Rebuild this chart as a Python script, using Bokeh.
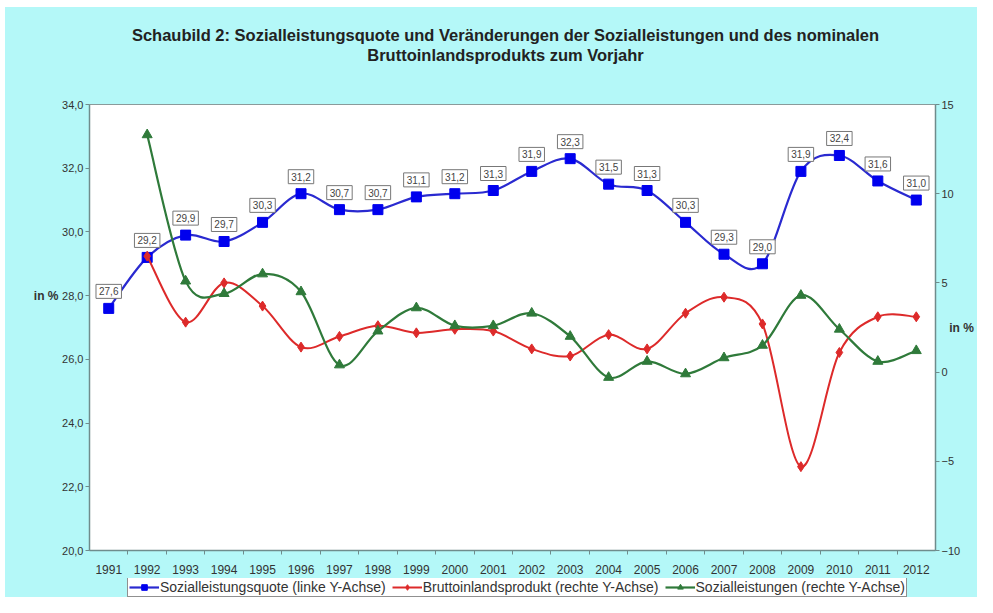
from bokeh.plotting import figure
from bokeh.layouts import column, row
from bokeh.models import (Range1d, LinearAxis, FixedTicker, CustomJSTickFormatter,
                          ColumnDataSource, Legend, LegendItem)
from bokeh.core.properties import value
from bokeh.embed import file_html
from bokeh.resources import INLINE

years = list(range(1991, 2013))
quote = [27.6, 29.2, 29.9, 29.7, 30.3, 31.2, 30.7, 30.7, 31.1, 31.2, 31.3,
         31.9, 32.3, 31.5, 31.3, 30.3, 29.3, 29.0, 31.9, 32.4, 31.6, 31.0]
bip_years = list(range(1992, 2013))
bip = [6.5, 2.8, 5.0, 3.7, 1.4, 2.0, 2.6, 2.2, 2.4, 2.3, 1.3, 0.9, 2.1, 1.3,
       3.3, 4.2, 2.7, -5.3, 1.1, 3.1, 3.1]
sl_years = list(range(1992, 2013))
sl = [13.3, 5.1, 4.4, 5.5, 4.5, 0.4, 2.3, 3.6, 2.6, 2.6, 3.3, 2.0, -0.3, 0.6,
      -0.1, 0.8, 1.5, 4.3, 2.4, 0.6, 1.2]

left_ticks = [20, 22, 24, 26, 28, 30, 32, 34]
right_ticks = [-10, -5, 0, 5, 10, 15]

title1 = "Schaubild 2: Sozialleistungsquote und Veränderungen der Sozialleistungen und des nominalen"
title2 = "Bruttoinlandsprodukts zum Vorjahr"
unit_label = "in %"
leg_labels = ["Sozialleistungsquote (linke Y-Achse)",
              "Bruttoinlandsprodukt (rechte Y-Achse)",
              "Sozialleistungen (rechte Y-Achse)"]

BG = "#B4F8F8"
AX = "#6f8c8c"
TXT = "#333333"
FONT = "Liberation Sans"
BLUE_L, BLUE_M = "#2a2ad0", "#0000ee"
RED = "#dd2a2a"
GREEN = "#2f7a3a"

W, H = 977, 597
TOP_W, LEFT_W = 7, 5
TITLE_H, MAIN_H = 87, 484
LEG_H = H - TOP_W - TITLE_H - MAIN_H
SIDE_W = 54
BT, BB = 10, 28
BL, BR = 28, 42


def blank(w, h, xr, yr, bg=BG, **kw):
    f = figure(width=w, height=h, output_backend="svg", toolbar_location=None,
               x_range=xr, y_range=yr, x_axis_type=None, y_axis_type=None,
               min_border=0, **kw)
    f.border_fill_color = bg
    f.background_fill_color = bg
    f.outline_line_color = None
    f.grid.visible = False
    return f


# ---- white page strips
top_strip = blank(W, TOP_W, Range1d(0, 1), Range1d(0, 1), bg="white")
left_strip = blank(LEFT_W, TITLE_H + MAIN_H + LEG_H, Range1d(0, 1), Range1d(0, 1), bg="white")

# ---- title strip
tf = blank(W - LEFT_W, TITLE_H, Range1d(LEFT_W, W), Range1d(0, TITLE_H))
tf.text(x=[505, 505], y=[60, 40], text=[title1, title2], text_font=value(FONT),
        text_font_size="16.5px", text_font_style="bold", text_color="#222222",
        text_align="center", text_baseline="middle")

# ---- main chart
yr = Range1d(left_ticks[0], left_ticks[-1])
p = figure(width=W - LEFT_W - SIDE_W, height=MAIN_H, output_backend="svg",
           toolbar_location=None,
           x_range=Range1d(years[0] - 0.5, years[-1] + 0.5), y_range=yr,
           min_border_left=BL, min_border_right=BR, min_border_top=BT,
           min_border_bottom=BB)
p.title = None
p.extra_y_ranges = {"r": Range1d(right_ticks[0], right_ticks[-1])}
p.border_fill_color = BG
p.background_fill_color = "white"
p.outline_line_color = "#8a9a9a"
p.grid.visible = False

p.xaxis.ticker = FixedTicker(ticks=years, minor_ticks=[y + 0.5 for y in years[:-1]])
p.yaxis.ticker = FixedTicker(ticks=left_ticks, minor_ticks=[])
p.yaxis.formatter = CustomJSTickFormatter(code="return tick.toFixed(1).replace('.', ',');")
ra = LinearAxis(y_range_name="r", ticker=FixedTicker(ticks=right_ticks, minor_ticks=[]))
p.add_layout(ra, "right")
for ax in [p.xaxis[0], p.yaxis[0], ra]:
    isx = ax is p.xaxis[0]
    ax.axis_line_color = AX
    ax.axis_line_width = 1.5
    ax.major_tick_line_color = None if isx else AX
    ax.major_tick_out = 4
    ax.major_tick_in = 0
    ax.minor_tick_line_color = AX if isx else None
    ax.minor_tick_out = 4
    ax.minor_tick_in = 0
    ax.major_label_text_font = FONT
    ax.major_label_text_font_size = "12px"
    ax.major_label_text_color = TXT
    ax.major_label_standoff = 4
p.yaxis.major_label_text_font_size = "11px"
p.yaxis.major_label_standoff = 2
p.xaxis.major_label_standoff = 10
ra.axis_label = unit_label
ra.axis_label_orientation = "horizontal"
ra.axis_label_text_font = FONT
ra.axis_label_text_font_size = "12px"
ra.axis_label_text_font_style = "bold"
ra.axis_label_text_color = TXT
ra.axis_label_standoff = -14


def smooth(r, xs, ys, color, width, y_range_name="default"):
    n = len(xs)
    x0, y0, x1, y1, cx0, cy0, cx1, cy1 = ([] for _ in range(8))
    for i in range(n - 1):
        pa = (xs[i - 1], ys[i - 1]) if i > 0 else (xs[i], ys[i])
        pb = (xs[i], ys[i])
        pc = (xs[i + 1], ys[i + 1])
        pd = (xs[i + 2], ys[i + 2]) if i + 2 < n else pc
        x0.append(pb[0]); y0.append(pb[1]); x1.append(pc[0]); y1.append(pc[1])
        cx0.append(pb[0] + (pc[0] - pa[0]) / 6); cy0.append(pb[1] + (pc[1] - pa[1]) / 6)
        cx1.append(pc[0] - (pd[0] - pb[0]) / 6); cy1.append(pc[1] - (pd[1] - pb[1]) / 6)
    return r.bezier(x0=x0, y0=y0, x1=x1, y1=y1, cx0=cx0, cy0=cy0, cx1=cx1, cy1=cy1,
                    line_color=color, line_width=width, y_range_name=y_range_name)


smooth(p, years, quote, BLUE_L, 2.2)
p.scatter(years, quote, marker="square", size=10, fill_color=BLUE_M, line_color=BLUE_M)
smooth(p, bip_years, bip, RED, 2, "r")
p.scatter(bip_years, bip, marker="diamond", size=10, fill_color=RED, line_color=RED,
          y_range_name="r")
smooth(p, sl_years, sl, GREEN, 2.2, "r")
p.scatter(sl_years, sl, marker="triangle", size=10, fill_color=GREEN, line_color=GREEN,
          y_range_name="r")

src = ColumnDataSource(dict(x=years, y=quote,
                            t=[f"{v:.1f}".replace(".", ",") for v in quote]))
p.text(x="x", y="y", text="t", source=src, y_offset=-10,
       text_align="center", text_baseline="bottom",
       text_font=value(FONT), text_font_size="10px", text_color="#444444",
       background_fill_color="white", border_line_color="#777777",
       border_line_width=1, padding=3)

# ---- left unit label strip (same vertical scale as the main chart)
lf = blank(SIDE_W, MAIN_H, Range1d(0, 1), yr, min_border_top=BT, min_border_bottom=BB)
lf.text(x=[1], y=[28], text=[unit_label], x_offset=-1, text_font=value(FONT),
        text_font_size="12px", text_font_style="bold", text_color=TXT,
        text_align="right", text_baseline="middle")

# ---- legend strip (renderers carry the real series but lie outside its ranges)
gf = blank(W - LEFT_W, LEG_H, Range1d(0, 1), Range1d(0, 1))
r1l = gf.line(years, quote, line_color=BLUE_L, line_width=2.2)
r1m = gf.scatter(years, quote, marker="square", size=9, fill_color=BLUE_M, line_color=BLUE_M)
r2l = gf.line(bip_years, bip, line_color=RED, line_width=2)
r2m = gf.scatter(bip_years, bip, marker="diamond", size=9, fill_color=RED, line_color=RED)
r3l = gf.line(sl_years, sl, line_color=GREEN, line_width=2.2)
r3m = gf.scatter(sl_years, sl, marker="triangle", size=9, fill_color=GREEN, line_color=GREEN)
legend = Legend(items=[LegendItem(label=leg_labels[0], renderers=[r1l, r1m]),
                       LegendItem(label=leg_labels[1], renderers=[r2l, r2m]),
                       LegendItem(label=leg_labels[2], renderers=[r3l, r3m])],
                orientation="horizontal", location=(122, 0),
                label_text_font=FONT, label_text_font_size="14px", label_text_color=TXT,
                border_line_color="#222222", background_fill_color="white",
                background_fill_alpha=1, padding=1, spacing=6, margin=0,
                glyph_width=30, glyph_height=14, label_standoff=1, label_height=14)
gf.add_layout(legend)

body = column(tf, row(lf, p, spacing=0, styles={"background-color": BG}), gf,
              spacing=0, styles={"background-color": BG})
layout = column(top_strip, row(left_strip, body, spacing=0), spacing=0,
                styles={"background-color": "white"})
open("out.html", "w").write(file_html(layout, INLINE))
